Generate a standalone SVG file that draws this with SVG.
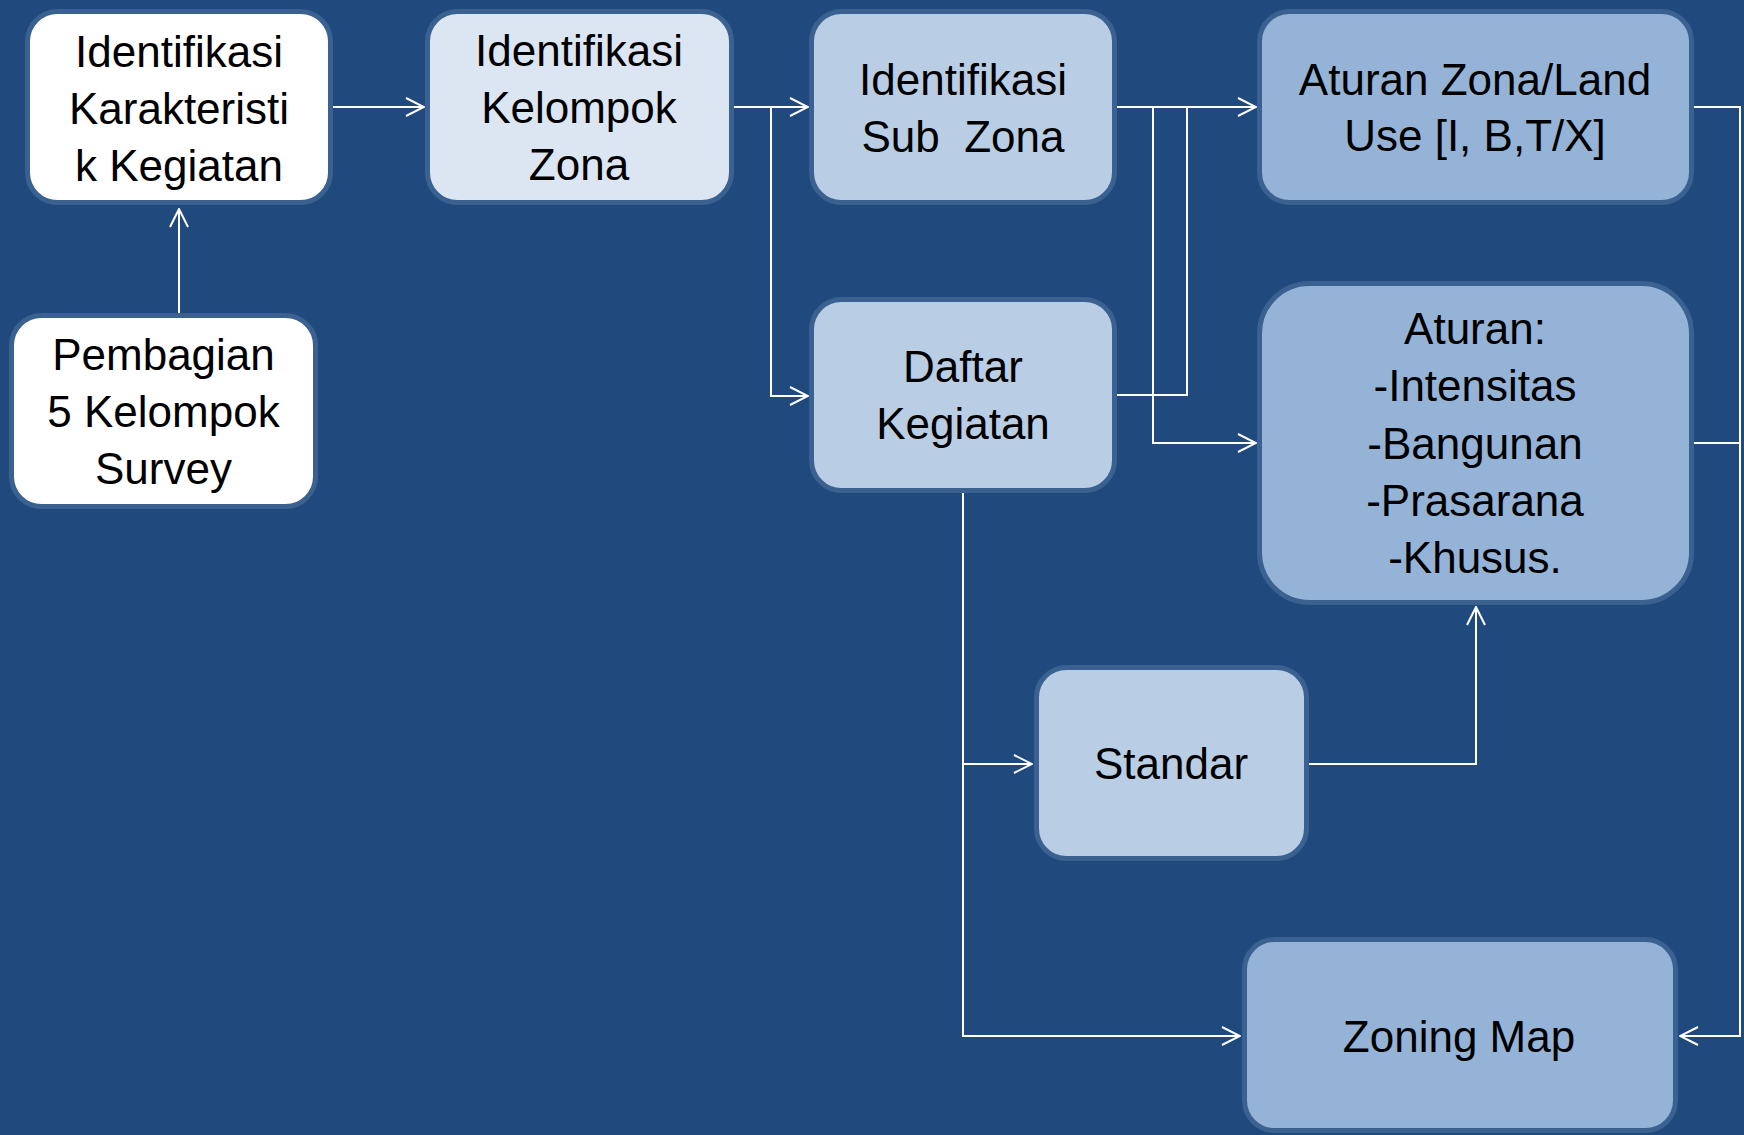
<svg xmlns="http://www.w3.org/2000/svg" width="1744" height="1135" viewBox="0 0 1744 1135">
<defs>
<style>
.box{stroke:#3b6190;stroke-width:5}
.w{fill:#ffffff}
.l1{fill:#dce6f2}
.l2{fill:#b9cde5}
.l3{fill:#95b3d7}
.t{font-family:"Liberation Sans",Arial,sans-serif;font-size:44px;fill:#000;text-anchor:middle;white-space:pre}
.c{fill:none;stroke:#ffffff;stroke-width:2}
</style>
<marker id="arr" viewBox="0 0 20 20" refX="19" refY="10" markerWidth="20" markerHeight="20" markerUnits="userSpaceOnUse" orient="auto">
<path d="M1,1 L19,10 L1,19" fill="none" stroke="#ffffff" stroke-width="2"/>
</marker>
</defs>
<rect x="0" y="0" width="1744" height="1135" fill="#204a7d"/>
<g id="connectors">
<path class="c" d="M179,313 V209" marker-end="url(#arr)"/>
<path class="c" d="M331,107 H424" marker-end="url(#arr)"/>
<path class="c" d="M731,107 H808" marker-end="url(#arr)"/>
<path class="c" d="M771,107 V396 H808" marker-end="url(#arr)"/>
<path class="c" d="M1114,107 H1256" marker-end="url(#arr)"/>
<path class="c" d="M1153,107 V443 H1256" marker-end="url(#arr)"/>
<path class="c" d="M1114,395 H1187 V107"/>
<path class="c" d="M1691,107 H1740 V1036 H1680" marker-end="url(#arr)"/>
<path class="c" d="M1691,443 H1740"/>
<path class="c" d="M963,491 V764 H1032" marker-end="url(#arr)"/>
<path class="c" d="M963,764 V1036 H1240" marker-end="url(#arr)"/>
<path class="c" d="M1307,764 H1476 V607" marker-end="url(#arr)"/>
</g>
<g id="node-karakteristik">
<rect class="box w" x="27.5" y="11.5" width="303" height="191" rx="30"/>
<text class="t" x="179" y="67">Identifikasi</text>
<text class="t" x="179" y="124">Karakteristi</text>
<text class="t" x="179" y="181">k Kegiatan</text>
</g>
<g id="node-pembagian">
<rect class="box w" x="11.5" y="315.5" width="304" height="191" rx="30"/>
<text class="t" x="163.5" y="370">Pembagian</text>
<text class="t" x="163.5" y="427">5 Kelompok</text>
<text class="t" x="163.5" y="484">Survey</text>
</g>
<g id="node-kelompok-zona">
<rect class="box l1" x="427.5" y="11.5" width="304" height="191" rx="30"/>
<text class="t" x="579" y="66">Identifikasi</text>
<text class="t" x="579" y="123">Kelompok</text>
<text class="t" x="579" y="180">Zona</text>
</g>
<g id="node-sub-zona">
<rect class="box l2" x="811.5" y="11.5" width="303" height="191" rx="30"/>
<text class="t" x="963" y="95">Identifikasi</text>
<text class="t" x="963" y="152">Sub  Zona</text>
</g>
<g id="node-daftar">
<rect class="box l2" x="811.5" y="299.5" width="303" height="191" rx="30"/>
<text class="t" x="963" y="382">Daftar</text>
<text class="t" x="963" y="439">Kegiatan</text>
</g>
<g id="node-aturan-zona">
<rect class="box l3" x="1259.5" y="11.5" width="432" height="191" rx="30"/>
<text class="t" x="1475" y="95">Aturan Zona/Land</text>
<text class="t" x="1475" y="151">Use [I, B,T/X]</text>
</g>
<g id="node-aturan">
<rect class="box l3" x="1259.5" y="283.5" width="432" height="319" rx="50"/>
<text class="t" x="1475" y="344">Aturan:</text>
<text class="t" x="1475" y="401">-Intensitas</text>
<text class="t" x="1475" y="459">-Bangunan</text>
<text class="t" x="1475" y="516">-Prasarana</text>
<text class="t" x="1475" y="573">-Khusus.</text>
</g>
<g id="node-standar">
<rect class="box l2" x="1036.5" y="667.5" width="270" height="191" rx="30"/>
<text class="t" x="1171" y="779">Standar</text>
</g>
<g id="node-zoning-map">
<rect class="box l3" x="1244.5" y="939.5" width="431" height="191" rx="30"/>
<text class="t" x="1459" y="1052">Zoning Map</text>
</g>
</svg>
